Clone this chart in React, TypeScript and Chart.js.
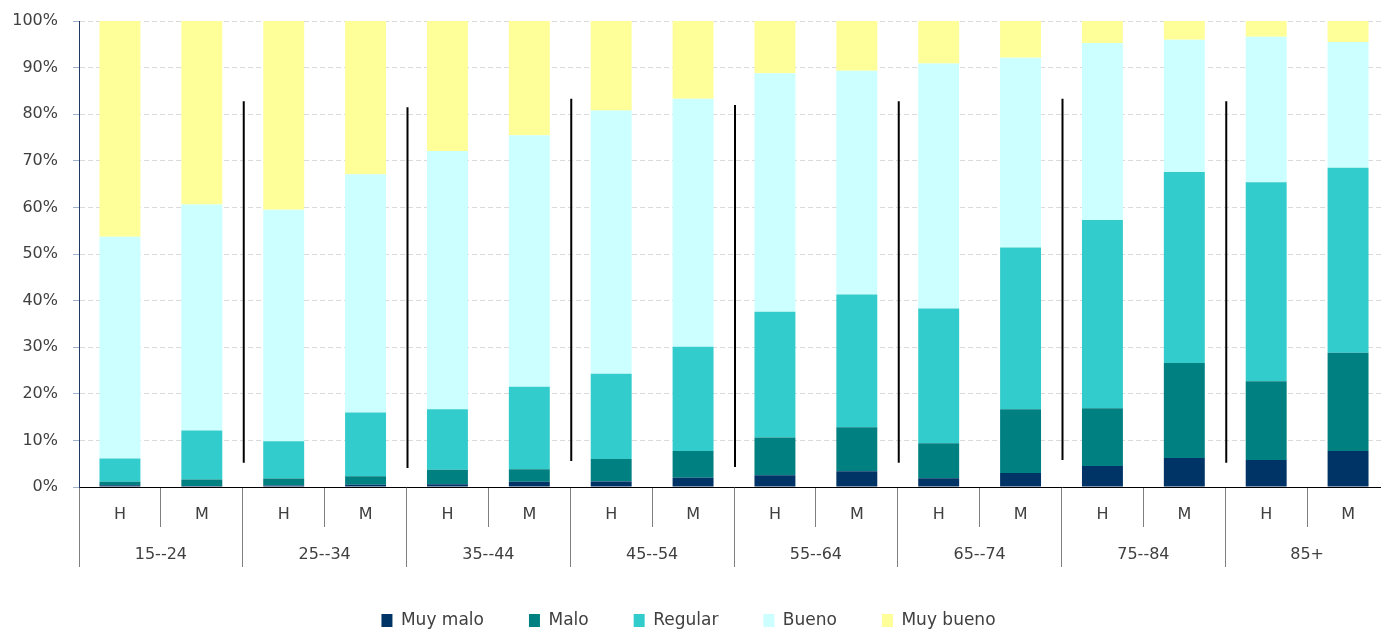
import React, { useEffect, useRef } from 'react';
import { Chart, registerables } from 'chart.js';

Chart.register(...registerables);

// ---- Data ----
const sexLabels = ['H', 'M', 'H', 'M', 'H', 'M', 'H', 'M', 'H', 'M', 'H', 'M', 'H', 'M', 'H', 'M'];
const ageGroups = ['15--24', '25--34', '35--44', '45--54', '55--64', '65--74', '75--84', '85+'];
const seriesNames = ['Muy malo', 'Malo', 'Regular', 'Bueno', 'Muy bueno'];

const muyMalo = [0.4, 0.2, 0.3, 0.5, 0.6, 1.1, 1.2, 2.0, 2.5, 3.4, 1.9, 3.0, 4.5, 6.2, 5.8, 7.7];
const malo = [0.7, 1.4, 1.5, 1.8, 3.1, 2.7, 4.8, 5.7, 8.1, 9.4, 7.5, 13.7, 12.4, 20.4, 16.9, 21.1];
const regular = [5.0, 10.5, 8.0, 13.7, 13.0, 17.7, 18.3, 22.4, 27.0, 28.5, 28.9, 34.7, 40.4, 41.0, 42.7, 39.7];
const bueno = [47.6, 48.5, 49.7, 51.1, 55.4, 54.0, 56.5, 53.2, 51.2, 48.0, 52.6, 40.7, 38.0, 28.4, 31.2, 27.0];
const muyBueno = [46.3, 39.4, 40.5, 32.9, 27.9, 24.5, 19.2, 16.7, 11.2, 10.7, 9.1, 7.9, 4.7, 4.0, 3.4, 4.5];

// vertical separator lines between age groups (top / bottom value in %)
const separatorTop = [82.8, 81.5, 83.3, 82.0, 82.8, 83.3, 82.8];
const separatorBottom = [5.2, 4.1, 5.6, 4.3, 5.2, 5.8, 5.2];

const colors = ['#003366', '#008080', '#33CCCC', '#CCFFFF', '#FFFF99'];

const separatorPlugin = {
  id: 'groupSeparators',
  afterDatasetsDraw(chart: any) {
    const { ctx, scales } = chart;
    const x = scales.x;
    const y = scales.y;
    ctx.save();
    ctx.strokeStyle = '#000000';
    ctx.lineWidth = 2;
    separatorTop.forEach((top, i) => {
      const px = (x.getPixelForValue(2 * i + 1) + x.getPixelForValue(2 * i + 2)) / 2 + 1;
      ctx.beginPath();
      ctx.moveTo(px, y.getPixelForValue(top));
      ctx.lineTo(px, y.getPixelForValue(separatorBottom[i]));
      ctx.stroke();
    });
    ctx.restore();
  },
};

export default function App() {
  const ref = useRef<HTMLCanvasElement>(null);

  useEffect(() => {
    document.body.style.margin = '0';
    document.body.style.overflow = 'hidden';
    Chart.defaults.font.family = "'DejaVu Sans', sans-serif";
    Chart.defaults.color = '#404040';

    const values = [muyMalo, malo, regular, bueno, muyBueno];
    const chart = new Chart(ref.current as HTMLCanvasElement, {
      type: 'bar',
      data: {
        labels: sexLabels,
        datasets: values.map((v, i) => ({
          label: seriesNames[i],
          data: v,
          backgroundColor: colors[i],
          borderWidth: 0,
          categoryPercentage: 1,
          barPercentage: 0.5,
        })),
      },
      options: {
        animation: false,
        responsive: true,
        maintainAspectRatio: false,
        layout: { autoPadding: false, padding: { left: 0, right: 0, top: 21, bottom: -9 } },
        plugins: {
          tooltip: { enabled: false },
          legend: {
            position: 'bottom',
            labels: {
              boxWidth: 11,
              boxHeight: 13,
              padding: 45,
              color: '#404040',
              font: { size: 17 },
            },
          },
        },
        scales: {
          x: {
            type: 'category',
            stacked: true,
            offset: true,
            weight: 1,
            grid: {
              offset: true,
              drawOnChartArea: false,
              drawTicks: true,
              tickLength: 40,
              color: '#7f7f7f',
              tickColor: '#7f7f7f',
            },
            border: { display: true, color: '#000000', width: 1 },
            ticks: { font: { size: 16 }, color: '#404040', padding: -22, maxRotation: 0, autoSkip: false },
            afterFit: (s: any) => { s.height = 40; },
          },
          x2: {
            type: 'category',
            position: 'bottom',
            labels: ageGroups,
            offset: true,
            weight: 2,
            grid: {
              offset: true,
              drawOnChartArea: false,
              drawTicks: true,
              tickLength: 40,
              color: '#7f7f7f',
              tickColor: '#7f7f7f',
            },
            border: { display: false },
            ticks: { font: { size: 16 }, color: '#404040', padding: -22, maxRotation: 0, autoSkip: false },
            afterFit: (s: any) => { s.height = 40; },
          },
          y: {
            stacked: true,
            min: 0,
            max: 100,
            ticks: {
              stepSize: 10,
              font: { size: 16 },
              color: '#404040',
              padding: 15,
              callback: (v: any) => v + '%',
            },
            grid: {
              color: '#dadada',
              tickColor: '#9fb3cf',
              tickLength: 6,
              tickBorderDash: [],
            },
            border: { display: true, color: '#1f3864', width: 1, dash: [5, 3] },
            afterFit: (s: any) => {
              s.width = 91;
              s.paddingTop = 0;
              s.paddingBottom = 0;
            },
          },
        },
      },
      plugins: [separatorPlugin],
    } as any);
    return () => chart.destroy();
  }, []);

  return (
    <div style={{ width: 1381, height: 630, overflow: 'hidden', position: 'relative' }}>
      <div style={{ position: 'absolute', left: -12, top: 0, width: 1401, height: 630 }}>
        <canvas ref={ref} />
      </div>
    </div>
  );
}
